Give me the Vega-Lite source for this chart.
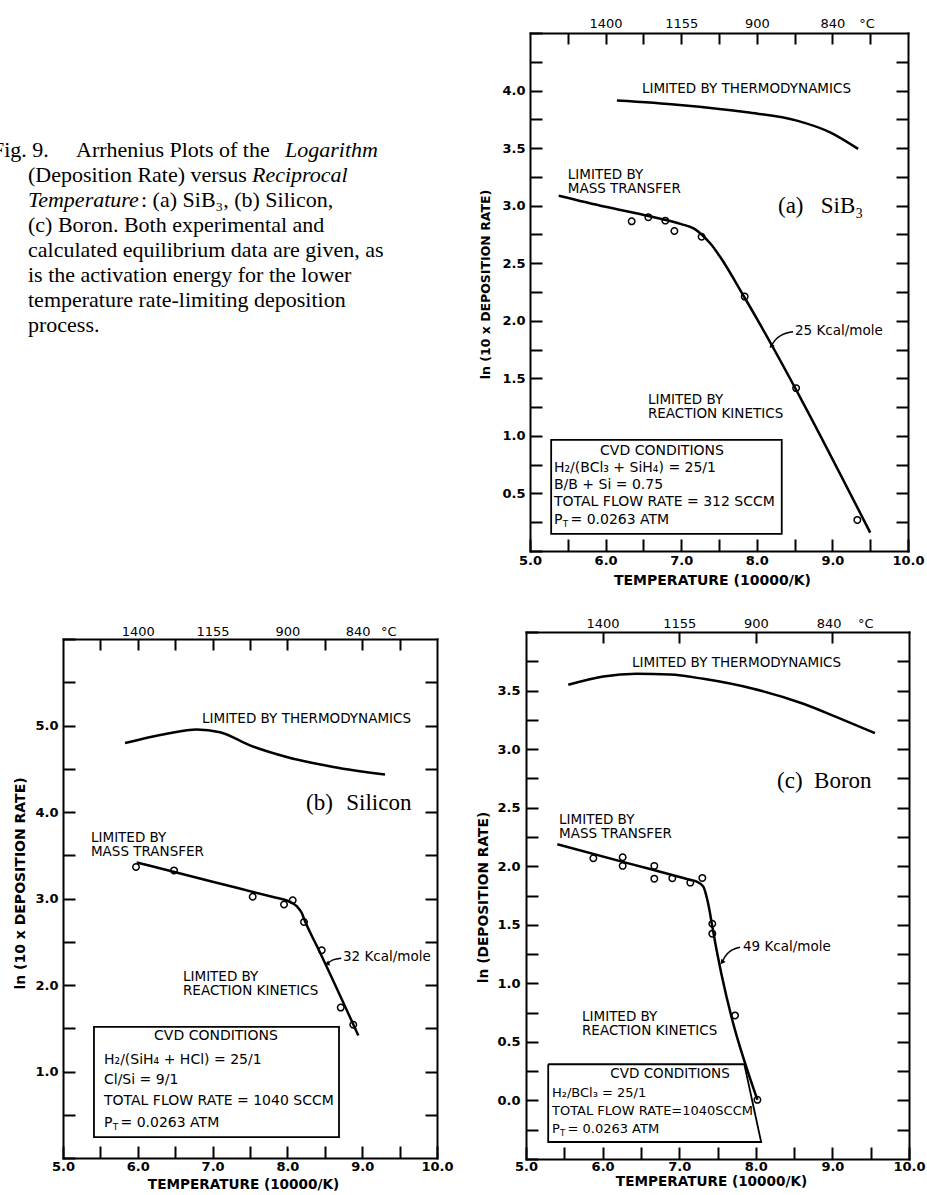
{
"$schema":"https://vega.github.io/schema/vega-lite/v6.json",
"width":927,"height":1195,
"autosize":{"type":"none"},
"padding":0,
"background":"white",
"config":{
 "view":{"stroke":null},
 "axis":{"grid":false,"domainColor":"black","domainWidth":2,"domainCap":"square","tickColor":"black","tickWidth":2,"tickSize":-12,"labelColor":"black","labelFont":"DejaVu Sans","labelFontSize":13,"labelFontWeight":"bold","labelFlush":false,"labelOverlap":false,"labelBound":false,"titleColor":"black","titleFont":"DejaVu Sans","titleFontSize":14,"titleFontWeight":"bold","titlePadding":0}
},
"datasets":{
 "a_main":[{"x":5.38,"y":3.087},{"x":6.0,"y":2.99},{"x":6.565,"y":2.91},{"x":7.0,"y":2.84},{"x":7.17,"y":2.8},{"x":7.27,"y":2.75},{"x":7.4,"y":2.66},{"x":7.51,"y":2.56},{"x":7.84,"y":2.2},{"x":9.5,"y":0.16}],
 "a_thermo":[{"x":6.15,"y":3.913},{"x":6.98,"y":3.875},{"x":7.87,"y":3.811},{"x":8.53,"y":3.739},{"x":8.97,"y":3.637},{"x":9.34,"y":3.493}],
 "a_pts":[{"x":6.345,"y":2.864},{"x":6.565,"y":2.9},{"x":6.79,"y":2.87},{"x":6.91,"y":2.78},{"x":7.27,"y":2.73},{"x":7.84,"y":2.21},{"x":8.52,"y":1.415},{"x":9.33,"y":0.27}],
 "a_box":[{"x":5.28,"x2":8.33,"y":0.148,"y2":0.965}],
 "a_notes":[
  {"x":6.48,"y":4.01,"text":"LIMITED BY THERMODYNAMICS"},
  {"x":5.5,"y":3.27,"text":"LIMITED BY\nMASS TRANSFER"},
  {"x":8.505,"y":1.91,"text":"25 Kcal/mole"},
  {"x":6.56,"y":1.313,"text":"LIMITED BY\nREACTION KINETICS"}],
 "a_boxtxt":[
  {"x":5.317,"y":0.72,"text":"H₂/(BCl₃ + SiH₄) = 25/1"},
  {"x":5.317,"y":0.574,"text":"B/B + Si = 0.75"},
  {"x":5.317,"y":0.426,"text":"TOTAL FLOW RATE = 312 SCCM"},
  {"x":5.317,"y":0.27,"text":"P"}],
 "a_rest":[{"x":5.317,"y":0.27,"text":"= 0.0263 ATM"}],
 "a_center":[{"x":6.746,"y":0.87,"text":"CVD CONDITIONS"}],
 "a_serif":[{"x":8.28,"y":2.94,"text":"(a)\u2002 SiB₃"}],
 "a_sub":[{"x":5.317,"y":0.27,"text":"T"}],
 "a_arrow":[{"x":8.19,"y":1.78},{"x":8.24,"y":1.83},{"x":8.34,"y":1.88},{"x":8.48,"y":1.905}],
 "a_head":[{"x":8.19,"y":1.78}],
 "b_main":[{"x":5.985,"y":3.417},{"x":7.0,"y":3.194},{"x":7.85,"y":3.008},{"x":7.99,"y":2.977},{"x":8.124,"y":2.911},{"x":8.191,"y":2.835},{"x":8.235,"y":2.739},{"x":8.436,"y":2.376},{"x":8.948,"y":1.417}],
 "b_thermo":[{"x":5.829,"y":4.797},{"x":6.386,"y":4.905},{"x":6.787,"y":4.954},{"x":7.099,"y":4.923},{"x":7.5,"y":4.77},{"x":7.991,"y":4.636},{"x":8.614,"y":4.521},{"x":9.305,"y":4.433}],
 "b_pts":[{"x":5.976,"y":3.364},{"x":6.484,"y":3.325},{"x":7.536,"y":3.02},{"x":7.955,"y":2.931},{"x":8.071,"y":2.98},{"x":8.222,"y":2.728},{"x":8.459,"y":2.402},{"x":8.713,"y":1.739},{"x":8.881,"y":1.54}],
 "b_box":[{"x":5.414,"x2":8.69,"y":0.241,"y2":1.517}],
 "b_notes":[
  {"x":6.858,"y":5.08,"text":"LIMITED BY THERMODYNAMICS"},
  {"x":5.374,"y":3.701,"text":"LIMITED BY\nMASS TRANSFER"},
  {"x":8.743,"y":2.322,"text":"32 Kcal/mole"},
  {"x":6.604,"y":2.092,"text":"LIMITED BY\nREACTION KINETICS"}],
 "b_boxtxt":[
  {"x":5.548,"y":1.138,"text":"H₂/(SiH₄ + HCl) = 25/1"},
  {"x":5.548,"y":0.897,"text":"Cl/Si = 9/1"},
  {"x":5.548,"y":0.655,"text":"TOTAL FLOW RATE = 1040 SCCM"},
  {"x":5.548,"y":0.402,"text":"P"}],
 "b_rest":[{"x":5.548,"y":0.402,"text":"= 0.0263 ATM"}],
 "b_center":[{"x":7.045,"y":1.414,"text":"CVD CONDITIONS"}],
 "b_serif":[{"x":8.249,"y":4.023,"text":"(b)\u2002\u200aSilicon"}],
 "b_sub":[{"x":5.548,"y":0.402,"text":"T"}],
 "b_arrow":[{"x":8.53,"y":2.245},{"x":8.61,"y":2.29},{"x":8.72,"y":2.31}],
 "b_head":[{"x":8.53,"y":2.245}],
 "c_main":[{"x":5.409,"y":2.187},{"x":6.3,"y":2.031},{"x":7.15,"y":1.883},{"x":7.228,"y":1.869},{"x":7.315,"y":1.826},{"x":7.367,"y":1.713},{"x":7.402,"y":1.6},{"x":7.424,"y":1.515},{"x":8.021,"y":0.005}],
 "c_thermo":[{"x":5.552,"y":3.549},{"x":6.009,"y":3.62},{"x":6.445,"y":3.643},{"x":6.88,"y":3.637},{"x":7.315,"y":3.6},{"x":7.967,"y":3.515},{"x":8.62,"y":3.387},{"x":9.056,"y":3.273},{"x":9.556,"y":3.137}],
 "c_pts":[{"x":5.879,"y":2.068},{"x":6.262,"y":2.077},{"x":6.262,"y":2.003},{"x":6.675,"y":2.003},{"x":6.675,"y":1.894},{"x":6.91,"y":1.898},{"x":7.145,"y":1.86},{"x":7.302,"y":1.9},{"x":7.432,"y":1.509},{"x":7.432,"y":1.424},{"x":7.729,"y":0.726},{"x":8.021,"y":0.005}],
 "c_box":[{"order":1,"x":5.29,"y":0.309},{"order":2,"x":7.85,"y":0.309},{"order":3,"x":8.07,"y":-0.355},{"order":4,"x":5.29,"y":-0.355},{"order":5,"x":5.29,"y":0.309}],
 "c_notes":[
  {"x":6.384,"y":3.739,"text":"LIMITED BY THERMODYNAMICS"},
  {"x":5.431,"y":2.394,"text":"LIMITED BY\nMASS TRANSFER"},
  {"x":7.833,"y":1.313,"text":"49 Kcal/mole"},
  {"x":5.731,"y":0.709,"text":"LIMITED BY\nREACTION KINETICS"}],
 "c_boxtxt":[
  {"x":5.339,"y":0.062,"text":"H₂/BCl₃ = 25/1"},
  {"x":5.339,"y":-0.091,"text":"TOTAL FLOW RATE=1040SCCM"},
  {"x":5.339,"y":-0.244,"text":"P"}],
 "c_rest":[{"x":5.339,"y":-0.244,"text":"= 0.0263 ATM"}],
 "c_center":[{"x":6.88,"y":0.224,"text":"CVD CONDITIONS"}],
 "c_serif":[{"x":8.277,"y":2.664,"text":"(c)\u2002Boron"}],
 "c_sub":[{"x":5.339,"y":-0.244,"text":"T"}],
 "c_arrow":[{"x":7.56,"y":1.18},{"x":7.598,"y":1.228},{"x":7.676,"y":1.279},{"x":7.794,"y":1.309}],
 "c_head":[{"x":7.56,"y":1.18}],
 "caption":[
  {"line":1,"part":1,"text":"Fig. 9."},
  {"line":1,"part":2,"text":"Arrhenius Plots of the"},
  {"line":1,"part":3,"text":"Logarithm"},
  {"line":2,"part":1,"text":"(Deposition Rate) versus"},
  {"line":2,"part":3,"text":"Reciprocal"},
  {"line":3,"part":3,"text":"Temperature"},
  {"line":3,"part":2,"text":": (a) SiB₃, (b) Silicon,"},
  {"line":4,"part":1,"text":"(c) Boron.  Both experimental and"},
  {"line":5,"part":1,"text":"calculated equilibrium data are given, as"},
  {"line":6,"part":1,"text":"is the activation energy for the lower"},
  {"line":7,"part":1,"text":"temperature rate-limiting deposition"},
  {"line":8,"part":1,"text":"process."}]
},
"layer":[
 {"layer":[
  {"data":{"name":"a_main"},"mark":{"type":"line","color":"black","strokeWidth":2.5,"interpolate":"monotone"},
   "encoding":{
    "x":{"field":"x","type":"quantitative","scale":{"domain":[5,10],"range":[530,908],"nice":false,"zero":false},
         "axis":{"orient":"bottom","offset":-644,"values":[5,5.5,6,6.5,7,7.5,8,8.5,9,9.5,10],"labelExpr":"datum.value % 1 == 0 ? format(datum.value, '.1f') : ''","labelPadding":15.5,"title":"TEMPERATURE (10000/K)","titleX":712,"titleY":29,"titleBaseline":"middle"}},
    "y":{"field":"y","type":"quantitative","scale":{"domain":[0,4.5],"range":[551,33],"nice":false,"zero":false},
         "axis":{"orient":"left","offset":-530,"values":[0,0.25,0.5,0.75,1,1.25,1.5,1.75,2,2.25,2.5,2.75,3,3.25,3.5,3.75,4,4.25,4.5],"labelExpr":"(datum.value * 2) % 1 == 0 && datum.value > 0 && datum.value < 4.5 ? format(datum.value, '.1f') : ''","labelPadding":17,"title":"ln (10 x DEPOSITION RATE)","titleX":-45,"titleY":284,"titleBaseline":"middle","titleFontSize":12.5}}}},
  {"data":{"name":"a_thermo"},"mark":{"type":"line","color":"black","strokeWidth":2.5,"interpolate":"monotone"},
   "encoding":{
    "x":{"field":"x","type":"quantitative","scale":{"domain":[5,10],"range":[530,908],"nice":false,"zero":false},
         "axis":{"orient":"top","offset":-33,"values":[5.5,6,6.5,7,7.5,8,8.5,9,9.5],"labels":false,"title":null,"tickSize":-11}},
    "y":{"field":"y","type":"quantitative","scale":{"domain":[0,4.5],"range":[551,33],"nice":false,"zero":false},
         "axis":{"orient":"right","offset":-19,"values":[0.25,0.5,0.75,1,1.25,1.5,1.75,2,2.25,2.5,2.75,3,3.25,3.5,3.75,4,4.25],"labels":false,"title":null}}}},
  {"data":{"name":"a_pts"},"mark":{"type":"point","shape":"circle","filled":false,"stroke":"black","strokeWidth":1.5,"size":42,"opacity":1},
   "encoding":{
    "x":{"field":"x","type":"quantitative","scale":{"domain":[5,10],"range":[530,908],"nice":false,"zero":false},
         "axis":{"orient":"top","offset":-33,"values":[6,7,8,9,9.45],"ticks":false,"domain":false,"labelExpr":"datum.value == 6 ? '1400' : datum.value == 7 ? '1155' : datum.value == 8 ? '900' : datum.value < 9.2 ? '840' : '°C'","labelPadding":2.5,"labelFontWeight":"normal","title":null}},
    "y":{"field":"y","type":"quantitative","scale":{"domain":[0,4.5],"range":[551,33],"nice":false,"zero":false},"axis":null}}},
  {"data":{"name":"a_box"},"mark":{"type":"rect","fill":"white","stroke":"black","strokeWidth":1.8},
   "encoding":{
    "x":{"field":"x","type":"quantitative","scale":{"domain":[5,10],"range":[530,908],"nice":false,"zero":false},"axis":null},
    "x2":{"field":"x2"},
    "y":{"field":"y","type":"quantitative","scale":{"domain":[0,4.5],"range":[551,33],"nice":false,"zero":false},"axis":null},
    "y2":{"field":"y2"}}},
  {"data":{"name":"a_notes"},"mark":{"type":"text","align":"left","baseline":"middle","font":"DejaVu Sans","fontSize":13.5,"lineBreak":"\n","lineHeight":14,"color":"black"},
   "encoding":{
    "x":{"field":"x","type":"quantitative","scale":{"domain":[5,10],"range":[530,908],"nice":false,"zero":false},"axis":null},
    "y":{"field":"y","type":"quantitative","scale":{"domain":[0,4.5],"range":[551,33],"nice":false,"zero":false},"axis":null},
    "text":{"field":"text"}}},
  {"data":{"name":"a_boxtxt"},"mark":{"type":"text","align":"left","baseline":"middle","font":"DejaVu Sans","fontSize":14,"color":"black"},
   "encoding":{
    "x":{"field":"x","type":"quantitative","scale":{"domain":[5,10],"range":[530,908],"nice":false,"zero":false},"axis":null},
    "y":{"field":"y","type":"quantitative","scale":{"domain":[0,4.5],"range":[551,33],"nice":false,"zero":false},"axis":null},
    "text":{"field":"text"}}},
  {"data":{"name":"a_rest"},"mark":{"type":"text","align":"left","baseline":"middle","font":"DejaVu Sans","fontSize":14,"dx":16.5,"color":"black"},
   "encoding":{
    "x":{"field":"x","type":"quantitative","scale":{"domain":[5,10],"range":[530,908],"nice":false,"zero":false},"axis":null},
    "y":{"field":"y","type":"quantitative","scale":{"domain":[0,4.5],"range":[551,33],"nice":false,"zero":false},"axis":null},
    "text":{"field":"text"}}},
  {"data":{"name":"a_center"},"mark":{"type":"text","align":"center","baseline":"middle","font":"DejaVu Sans","fontSize":14,"color":"black"},
   "encoding":{
    "x":{"field":"x","type":"quantitative","scale":{"domain":[5,10],"range":[530,908],"nice":false,"zero":false},"axis":null},
    "y":{"field":"y","type":"quantitative","scale":{"domain":[0,4.5],"range":[551,33],"nice":false,"zero":false},"axis":null},
    "text":{"field":"text"}}},
  {"data":{"name":"a_serif"},"mark":{"type":"text","align":"left","baseline":"alphabetic","font":"Liberation Serif","fontSize":23,"color":"black"},
   "encoding":{
    "x":{"field":"x","type":"quantitative","scale":{"domain":[5,10],"range":[530,908],"nice":false,"zero":false},"axis":null},
    "y":{"field":"y","type":"quantitative","scale":{"domain":[0,4.5],"range":[551,33],"nice":false,"zero":false},"axis":null},
    "text":{"field":"text"}}},
  {"data":{"name":"a_sub"},"mark":{"type":"text","align":"left","baseline":"middle","font":"DejaVu Sans","fontSize":9,"dx":8.7,"dy":4,"color":"black"},
   "encoding":{
    "x":{"field":"x","type":"quantitative","scale":{"domain":[5,10],"range":[530,908],"nice":false,"zero":false},"axis":null},
    "y":{"field":"y","type":"quantitative","scale":{"domain":[0,4.5],"range":[551,33],"nice":false,"zero":false},"axis":null},
    "text":{"field":"text"}}},
  {"data":{"name":"a_arrow"},"mark":{"type":"line","color":"black","strokeWidth":1.5,"interpolate":"monotone"},
   "encoding":{
    "x":{"field":"x","type":"quantitative","scale":{"domain":[5,10],"range":[530,908],"nice":false,"zero":false},"axis":null},
    "y":{"field":"y","type":"quantitative","scale":{"domain":[0,4.5],"range":[551,33],"nice":false,"zero":false},"axis":null}}},
  {"data":{"name":"a_head"},"mark":{"type":"point","shape":"triangle-up","filled":true,"color":"black","size":30,"angle":220,"opacity":1},
   "encoding":{
    "x":{"field":"x","type":"quantitative","scale":{"domain":[5,10],"range":[530,908],"nice":false,"zero":false},"axis":null},
    "y":{"field":"y","type":"quantitative","scale":{"domain":[0,4.5],"range":[551,33],"nice":false,"zero":false},"axis":null}}}
 ],"resolve":{"axis":{"x":"independent","y":"independent"}}},

 {"layer":[
  {"data":{"name":"b_main"},"mark":{"type":"line","color":"black","strokeWidth":2.5,"interpolate":"monotone"},
   "encoding":{
    "x":{"field":"x","type":"quantitative","scale":{"domain":[5,10],"range":[63,437],"nice":false,"zero":false},
         "axis":{"orient":"bottom","offset":-37,"values":[5,5.5,6,6.5,7,7.5,8,8.5,9,9.5,10],"labelExpr":"datum.value % 1 == 0 ? format(datum.value, '.1f') : ''","labelPadding":14,"title":"TEMPERATURE (10000/K)","titleX":243,"titleY":26,"titleBaseline":"middle","titleFontSize":13.6}},
    "y":{"field":"y","type":"quantitative","scale":{"domain":[0,6],"range":[1158,639],"nice":false,"zero":false},
         "axis":{"orient":"left","offset":-63,"values":[0,0.5,1,1.5,2,2.5,3,3.5,4,4.5,5,5.5,6],"labelExpr":"datum.value % 1 == 0 && datum.value > 0 && datum.value < 6 ? format(datum.value, '.1f') : ''","labelPadding":17,"title":"ln (10 x DEPOSITION RATE)","titleX":-43,"titleY":883,"titleBaseline":"middle","titleFontSize":14}}}},
  {"data":{"name":"b_thermo"},"mark":{"type":"line","color":"black","strokeWidth":2.5,"interpolate":"monotone"},
   "encoding":{
    "x":{"field":"x","type":"quantitative","scale":{"domain":[5,10],"range":[63,437],"nice":false,"zero":false},
         "axis":{"orient":"top","offset":-639,"values":[5.5,6,6.5,7,7.5,8,8.5,9,9.5],"labels":false,"title":null,"tickSize":-11}},
    "y":{"field":"y","type":"quantitative","scale":{"domain":[0,6],"range":[1158,639],"nice":false,"zero":false},
         "axis":{"orient":"right","offset":-490,"values":[0.5,1,1.5,2,2.5,3,3.5,4,4.5,5,5.5],"labels":false,"title":null}}}},
  {"data":{"name":"b_pts"},"mark":{"type":"point","shape":"circle","filled":false,"stroke":"black","strokeWidth":1.5,"size":42,"opacity":1},
   "encoding":{
    "x":{"field":"x","type":"quantitative","scale":{"domain":[5,10],"range":[63,437],"nice":false,"zero":false},
         "axis":{"orient":"top","offset":-639,"values":[6,7,8,8.94,9.35],"ticks":false,"domain":false,"labelExpr":"datum.value == 6 ? '1400' : datum.value == 7 ? '1155' : datum.value == 8 ? '900' : datum.value < 9.2 ? '840' : '°C'","labelPadding":0.5,"labelFontWeight":"normal","title":null}},
    "y":{"field":"y","type":"quantitative","scale":{"domain":[0,6],"range":[1158,639],"nice":false,"zero":false},"axis":null}}},
  {"data":{"name":"b_box"},"mark":{"type":"rect","fill":"white","stroke":"black","strokeWidth":1.8},
   "encoding":{
    "x":{"field":"x","type":"quantitative","scale":{"domain":[5,10],"range":[63,437],"nice":false,"zero":false},"axis":null},
    "x2":{"field":"x2"},
    "y":{"field":"y","type":"quantitative","scale":{"domain":[0,6],"range":[1158,639],"nice":false,"zero":false},"axis":null},
    "y2":{"field":"y2"}}},
  {"data":{"name":"b_notes"},"mark":{"type":"text","align":"left","baseline":"middle","font":"DejaVu Sans","fontSize":13.5,"lineBreak":"\n","lineHeight":14,"color":"black"},
   "encoding":{
    "x":{"field":"x","type":"quantitative","scale":{"domain":[5,10],"range":[63,437],"nice":false,"zero":false},"axis":null},
    "y":{"field":"y","type":"quantitative","scale":{"domain":[0,6],"range":[1158,639],"nice":false,"zero":false},"axis":null},
    "text":{"field":"text"}}},
  {"data":{"name":"b_boxtxt"},"mark":{"type":"text","align":"left","baseline":"middle","font":"DejaVu Sans","fontSize":14,"color":"black"},
   "encoding":{
    "x":{"field":"x","type":"quantitative","scale":{"domain":[5,10],"range":[63,437],"nice":false,"zero":false},"axis":null},
    "y":{"field":"y","type":"quantitative","scale":{"domain":[0,6],"range":[1158,639],"nice":false,"zero":false},"axis":null},
    "text":{"field":"text"}}},
  {"data":{"name":"b_rest"},"mark":{"type":"text","align":"left","baseline":"middle","font":"DejaVu Sans","fontSize":14,"dx":16.5,"color":"black"},
   "encoding":{
    "x":{"field":"x","type":"quantitative","scale":{"domain":[5,10],"range":[63,437],"nice":false,"zero":false},"axis":null},
    "y":{"field":"y","type":"quantitative","scale":{"domain":[0,6],"range":[1158,639],"nice":false,"zero":false},"axis":null},
    "text":{"field":"text"}}},
  {"data":{"name":"b_center"},"mark":{"type":"text","align":"center","baseline":"middle","font":"DejaVu Sans","fontSize":14,"color":"black"},
   "encoding":{
    "x":{"field":"x","type":"quantitative","scale":{"domain":[5,10],"range":[63,437],"nice":false,"zero":false},"axis":null},
    "y":{"field":"y","type":"quantitative","scale":{"domain":[0,6],"range":[1158,639],"nice":false,"zero":false},"axis":null},
    "text":{"field":"text"}}},
  {"data":{"name":"b_serif"},"mark":{"type":"text","align":"left","baseline":"alphabetic","font":"Liberation Serif","fontSize":23,"color":"black"},
   "encoding":{
    "x":{"field":"x","type":"quantitative","scale":{"domain":[5,10],"range":[63,437],"nice":false,"zero":false},"axis":null},
    "y":{"field":"y","type":"quantitative","scale":{"domain":[0,6],"range":[1158,639],"nice":false,"zero":false},"axis":null},
    "text":{"field":"text"}}},
  {"data":{"name":"b_sub"},"mark":{"type":"text","align":"left","baseline":"middle","font":"DejaVu Sans","fontSize":9,"dx":8.7,"dy":4,"color":"black"},
   "encoding":{
    "x":{"field":"x","type":"quantitative","scale":{"domain":[5,10],"range":[63,437],"nice":false,"zero":false},"axis":null},
    "y":{"field":"y","type":"quantitative","scale":{"domain":[0,6],"range":[1158,639],"nice":false,"zero":false},"axis":null},
    "text":{"field":"text"}}},
  {"data":{"name":"b_arrow"},"mark":{"type":"line","color":"black","strokeWidth":1.5,"interpolate":"monotone"},
   "encoding":{
    "x":{"field":"x","type":"quantitative","scale":{"domain":[5,10],"range":[63,437],"nice":false,"zero":false},"axis":null},
    "y":{"field":"y","type":"quantitative","scale":{"domain":[0,6],"range":[1158,639],"nice":false,"zero":false},"axis":null}}},
  {"data":{"name":"b_head"},"mark":{"type":"point","shape":"triangle-up","filled":true,"color":"black","size":30,"angle":250,"opacity":1},
   "encoding":{
    "x":{"field":"x","type":"quantitative","scale":{"domain":[5,10],"range":[63,437],"nice":false,"zero":false},"axis":null},
    "y":{"field":"y","type":"quantitative","scale":{"domain":[0,6],"range":[1158,639],"nice":false,"zero":false},"axis":null}}}
 ],"resolve":{"axis":{"x":"independent","y":"independent"}}},

 {"layer":[
  {"data":{"name":"c_main"},"mark":{"type":"line","color":"black","strokeWidth":2.5,"interpolate":"monotone"},
   "encoding":{
    "x":{"field":"x","type":"quantitative","scale":{"domain":[5,10],"range":[526,909],"nice":false,"zero":false},
         "axis":{"orient":"bottom","offset":-36,"values":[5,5.5,6,6.5,7,7.5,8,8.5,9,9.5,10],"labelExpr":"datum.value % 1 == 0 ? format(datum.value, '.1f') : ''","labelPadding":13.5,"title":"TEMPERATURE (10000/K)","titleX":711,"titleY":22,"titleBaseline":"middle","titleFontSize":13.6}},
    "y":{"field":"y","type":"quantitative","scale":{"domain":[-0.5,4],"range":[1159,632],"nice":false,"zero":false},
         "axis":{"orient":"left","offset":-526,"values":[-0.5,-0.25,0,0.25,0.5,0.75,1,1.25,1.5,1.75,2,2.25,2.5,2.75,3,3.25,3.5,3.75,4],"labelExpr":"(datum.value * 2) % 1 == 0 && datum.value >= 0 && datum.value < 4 ? format(datum.value, '.1f') : ''","labelPadding":18,"title":"ln (DEPOSITION RATE)","titleX":-43,"titleY":897,"titleBaseline":"middle","titleFontSize":13.8}}}},
  {"data":{"name":"c_thermo"},"mark":{"type":"line","color":"black","strokeWidth":2.5,"interpolate":"monotone"},
   "encoding":{
    "x":{"field":"x","type":"quantitative","scale":{"domain":[5,10],"range":[526,909],"nice":false,"zero":false},
         "axis":{"orient":"top","offset":-632,"values":[6,7,8,9],"labels":false,"title":null,"tickSize":-11}},
    "y":{"field":"y","type":"quantitative","scale":{"domain":[-0.5,4],"range":[1159,632],"nice":false,"zero":false},
         "axis":{"orient":"right","offset":-18,"values":[-0.25,0,0.25,0.5,0.75,1,1.25,1.5,1.75,2,2.25,2.5,2.75,3,3.25,3.5,3.75],"labels":false,"title":null}}}},
  {"data":{"name":"c_pts"},"mark":{"type":"point","shape":"circle","filled":false,"stroke":"black","strokeWidth":1.5,"size":42,"opacity":1},
   "encoding":{
    "x":{"field":"x","type":"quantitative","scale":{"domain":[5,10],"range":[526,909],"nice":false,"zero":false},
         "axis":{"orient":"top","offset":-632,"values":[6,7,8,8.95,9.43],"ticks":false,"domain":false,"labelExpr":"datum.value == 6 ? '1400' : datum.value == 7 ? '1155' : datum.value == 8 ? '900' : datum.value < 9.2 ? '840' : '°C'","labelPadding":1.5,"labelFontWeight":"normal","title":null}},
    "y":{"field":"y","type":"quantitative","scale":{"domain":[-0.5,4],"range":[1159,632],"nice":false,"zero":false},"axis":null}}},
  {"data":{"name":"c_box"},"mark":{"type":"line","color":"black","strokeWidth":1.8},
   "encoding":{
    "x":{"field":"x","type":"quantitative","scale":{"domain":[5,10],"range":[526,909],"nice":false,"zero":false},"axis":null},
    "y":{"field":"y","type":"quantitative","scale":{"domain":[-0.5,4],"range":[1159,632],"nice":false,"zero":false},"axis":null},
    "order":{"field":"order","type":"quantitative"}}},
  {"data":{"name":"c_notes"},"mark":{"type":"text","align":"left","baseline":"middle","font":"DejaVu Sans","fontSize":13.5,"lineBreak":"\n","lineHeight":14,"color":"black"},
   "encoding":{
    "x":{"field":"x","type":"quantitative","scale":{"domain":[5,10],"range":[526,909],"nice":false,"zero":false},"axis":null},
    "y":{"field":"y","type":"quantitative","scale":{"domain":[-0.5,4],"range":[1159,632],"nice":false,"zero":false},"axis":null},
    "text":{"field":"text"}}},
  {"data":{"name":"c_boxtxt"},"mark":{"type":"text","align":"left","baseline":"middle","font":"DejaVu Sans","fontSize":13,"color":"black"},
   "encoding":{
    "x":{"field":"x","type":"quantitative","scale":{"domain":[5,10],"range":[526,909],"nice":false,"zero":false},"axis":null},
    "y":{"field":"y","type":"quantitative","scale":{"domain":[-0.5,4],"range":[1159,632],"nice":false,"zero":false},"axis":null},
    "text":{"field":"text"}}},
  {"data":{"name":"c_rest"},"mark":{"type":"text","align":"left","baseline":"middle","font":"DejaVu Sans","fontSize":13,"dx":15.5,"color":"black"},
   "encoding":{
    "x":{"field":"x","type":"quantitative","scale":{"domain":[5,10],"range":[526,909],"nice":false,"zero":false},"axis":null},
    "y":{"field":"y","type":"quantitative","scale":{"domain":[-0.5,4],"range":[1159,632],"nice":false,"zero":false},"axis":null},
    "text":{"field":"text"}}},
  {"data":{"name":"c_center"},"mark":{"type":"text","align":"center","baseline":"middle","font":"DejaVu Sans","fontSize":13.5,"color":"black"},
   "encoding":{
    "x":{"field":"x","type":"quantitative","scale":{"domain":[5,10],"range":[526,909],"nice":false,"zero":false},"axis":null},
    "y":{"field":"y","type":"quantitative","scale":{"domain":[-0.5,4],"range":[1159,632],"nice":false,"zero":false},"axis":null},
    "text":{"field":"text"}}},
  {"data":{"name":"c_serif"},"mark":{"type":"text","align":"left","baseline":"alphabetic","font":"Liberation Serif","fontSize":23,"color":"black"},
   "encoding":{
    "x":{"field":"x","type":"quantitative","scale":{"domain":[5,10],"range":[526,909],"nice":false,"zero":false},"axis":null},
    "y":{"field":"y","type":"quantitative","scale":{"domain":[-0.5,4],"range":[1159,632],"nice":false,"zero":false},"axis":null},
    "text":{"field":"text"}}},
  {"data":{"name":"c_sub"},"mark":{"type":"text","align":"left","baseline":"middle","font":"DejaVu Sans","fontSize":8.5,"dx":8,"dy":4,"color":"black"},
   "encoding":{
    "x":{"field":"x","type":"quantitative","scale":{"domain":[5,10],"range":[526,909],"nice":false,"zero":false},"axis":null},
    "y":{"field":"y","type":"quantitative","scale":{"domain":[-0.5,4],"range":[1159,632],"nice":false,"zero":false},"axis":null},
    "text":{"field":"text"}}},
  {"data":{"name":"c_arrow"},"mark":{"type":"line","color":"black","strokeWidth":1.5,"interpolate":"monotone"},
   "encoding":{
    "x":{"field":"x","type":"quantitative","scale":{"domain":[5,10],"range":[526,909],"nice":false,"zero":false},"axis":null},
    "y":{"field":"y","type":"quantitative","scale":{"domain":[-0.5,4],"range":[1159,632],"nice":false,"zero":false},"axis":null}}},
  {"data":{"name":"c_head"},"mark":{"type":"point","shape":"triangle-up","filled":true,"color":"black","size":30,"angle":215,"opacity":1},
   "encoding":{
    "x":{"field":"x","type":"quantitative","scale":{"domain":[5,10],"range":[526,909],"nice":false,"zero":false},"axis":null},
    "y":{"field":"y","type":"quantitative","scale":{"domain":[-0.5,4],"range":[1159,632],"nice":false,"zero":false},"axis":null}}}
 ],"resolve":{"axis":{"x":"independent","y":"independent"}}},

 {"data":{"name":"caption"},
  "layer":[
   {"transform":[{"filter":"datum.line == 1 && datum.part == 1"}],"mark":{"type":"text","x":-8,"align":"left","baseline":"alphabetic","font":"Liberation Serif","fontSize":22,"color":"black"},
    "encoding":{"y":{"field":"line","type":"quantitative","scale":{"domain":[1,8],"range":[157,332],"nice":false,"zero":false},"axis":null},"text":{"field":"text"}}},
   {"transform":[{"filter":"datum.line == 1 && datum.part == 2"}],"mark":{"type":"text","x":76,"align":"left","baseline":"alphabetic","font":"Liberation Serif","fontSize":22,"color":"black"},
    "encoding":{"y":{"field":"line","type":"quantitative","scale":{"domain":[1,8],"range":[157,332],"nice":false,"zero":false},"axis":null},"text":{"field":"text"}}},
   {"transform":[{"filter":"datum.line == 1 && datum.part == 3"}],"mark":{"type":"text","x":285,"align":"left","baseline":"alphabetic","font":"Liberation Serif","fontStyle":"italic","fontSize":22,"color":"black"},
    "encoding":{"y":{"field":"line","type":"quantitative","scale":{"domain":[1,8],"range":[157,332],"nice":false,"zero":false},"axis":null},"text":{"field":"text"}}},
   {"transform":[{"filter":"datum.line >= 2 && datum.part == 1"}],"mark":{"type":"text","x":28,"align":"left","baseline":"alphabetic","font":"Liberation Serif","fontSize":22,"color":"black"},
    "encoding":{"y":{"field":"line","type":"quantitative","scale":{"domain":[1,8],"range":[157,332],"nice":false,"zero":false},"axis":null},"text":{"field":"text"}}},
   {"transform":[{"filter":"datum.line == 2 && datum.part == 3"}],"mark":{"type":"text","x":252,"align":"left","baseline":"alphabetic","font":"Liberation Serif","fontStyle":"italic","fontSize":22,"color":"black"},
    "encoding":{"y":{"field":"line","type":"quantitative","scale":{"domain":[1,8],"range":[157,332],"nice":false,"zero":false},"axis":null},"text":{"field":"text"}}},
   {"transform":[{"filter":"datum.line == 3 && datum.part == 3"}],"mark":{"type":"text","x":28,"align":"left","baseline":"alphabetic","font":"Liberation Serif","fontStyle":"italic","fontSize":22,"color":"black"},
    "encoding":{"y":{"field":"line","type":"quantitative","scale":{"domain":[1,8],"range":[157,332],"nice":false,"zero":false},"axis":null},"text":{"field":"text"}}},
   {"transform":[{"filter":"datum.line == 3 && datum.part == 2"}],"mark":{"type":"text","x":141,"align":"left","baseline":"alphabetic","font":"Liberation Serif","fontSize":22,"color":"black"},
    "encoding":{"y":{"field":"line","type":"quantitative","scale":{"domain":[1,8],"range":[157,332],"nice":false,"zero":false},"axis":null},"text":{"field":"text"}}}
  ]}
],
"resolve":{"scale":{"x":"independent","y":"independent"},"axis":{"x":"independent","y":"independent"}}
}
